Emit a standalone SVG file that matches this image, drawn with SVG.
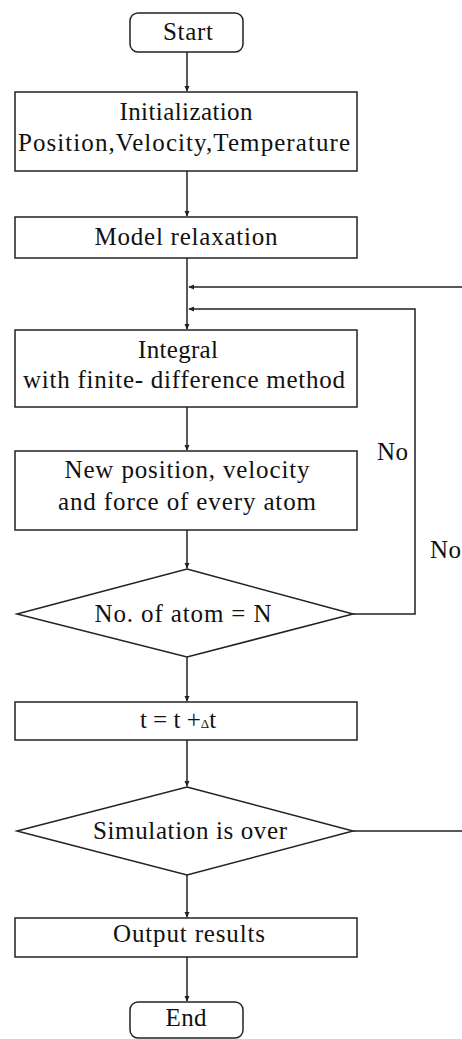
<svg xmlns="http://www.w3.org/2000/svg" width="462" height="1039" viewBox="0 0 462 1039">
<defs>
<style>
.box{fill:#fff;stroke:#222;stroke-width:1.5}
.lbl{font-family:'Liberation Serif','DejaVu Serif',serif;font-size:25px;fill:#111;text-anchor:middle}
.side{font-family:'Liberation Serif','DejaVu Serif',serif;font-size:25px;fill:#111}
.con{fill:none;stroke:#222;stroke-width:1.5}
</style>
<marker id="ah" viewBox="0 0 8 8" refX="7" refY="4" markerWidth="6" markerHeight="6" orient="auto" markerUnits="userSpaceOnUse">
<path d="M0,0.5 L8,4 L0,7.5 Z" fill="#222"/>
</marker>
</defs>
<rect width="462" height="1039" fill="#fff"/>
<g id="connectors">
<path class="con" d="M187,52 V91" marker-end="url(#ah)"/>
<path class="con" d="M187,171 V216" marker-end="url(#ah)"/>
<path class="con" d="M187,258 V329" marker-end="url(#ah)"/>
<path class="con" d="M462,287 H189" marker-end="url(#ah)"/>
<path class="con" d="M353,614 H415 V309 H189" marker-end="url(#ah)"/>
<path class="con" d="M187,407 V450" marker-end="url(#ah)"/>
<path class="con" d="M187,530 V568" marker-end="url(#ah)"/>
<path class="con" d="M187,657 V701" marker-end="url(#ah)"/>
<path class="con" d="M187,740 V786" marker-end="url(#ah)"/>
<path class="con" d="M353,831 H462"/>
<path class="con" d="M187,875 V917" marker-end="url(#ah)"/>
<path class="con" d="M187,957 V1001" marker-end="url(#ah)"/>
<text class="side" x="377" y="460" textLength="31">No</text>
<text class="side" x="430" y="558" textLength="31">No</text>
</g>
<g id="start">
<rect class="box" x="130" y="13" width="113" height="39" rx="8"/>
<text class="lbl" x="188" y="40" textLength="50">Start</text>
</g>
<g id="init">
<rect class="box" x="15" y="92" width="342" height="79"/>
<text class="lbl" x="186" y="120" textLength="133">Initialization</text>
<text class="lbl" x="184" y="151" textLength="332">Position,Velocity,Temperature</text>
</g>
<g id="relax">
<rect class="box" x="15" y="217" width="342" height="41"/>
<text class="lbl" x="186" y="245" textLength="183">Model relaxation</text>
</g>
<g id="integral">
<rect class="box" x="15" y="330" width="342" height="77"/>
<text class="lbl" x="178" y="358" textLength="80">Integral</text>
<text class="lbl" x="184" y="388" textLength="322">with finite- difference method</text>
</g>
<g id="newpos">
<rect class="box" x="15" y="451" width="342" height="79"/>
<text class="lbl" x="187" y="478" textLength="245">New position, velocity</text>
<text class="lbl" x="187" y="510" textLength="258">and force of every atom</text>
</g>
<g id="check-atoms">
<polygon class="box" points="187,569 353,614 187,657 17,614"/>
<text class="lbl" x="183" y="622" textLength="177">No. of atom = N</text>
</g>
<g id="timestep">
<rect class="box" x="15" y="702" width="342" height="38"/>
<text class="lbl" x="178" y="728">t = t +<tspan font-size="13">Δ</tspan>t</text>
</g>
<g id="check-sim">
<polygon class="box" points="187,787 353,831 187,875 17,831"/>
<text class="lbl" x="190" y="839" textLength="194">Simulation is over</text>
</g>
<g id="output">
<rect class="box" x="15" y="918" width="342" height="39"/>
<text class="lbl" x="189" y="942" textLength="152">Output results</text>
</g>
<g id="end">
<rect class="box" x="130" y="1002" width="113" height="36" rx="8"/>
<text class="lbl" x="186" y="1026" textLength="41">End</text>
</g>
</svg>
